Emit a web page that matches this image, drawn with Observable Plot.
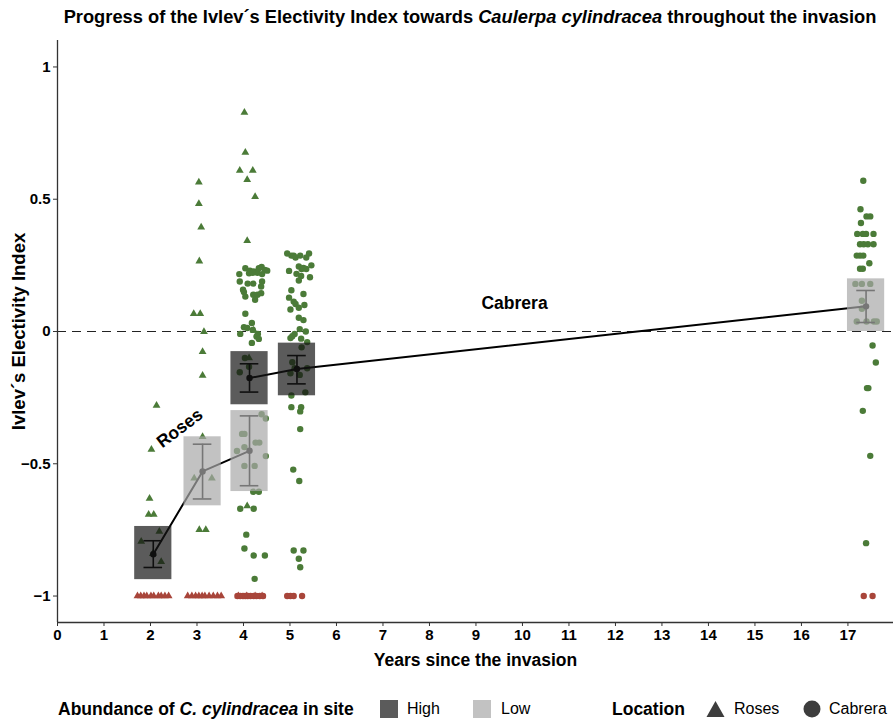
<!DOCTYPE html>
<html><head><meta charset="utf-8">
<script src="https://cdn.jsdelivr.net/npm/d3@7"></script>
<script src="https://cdn.jsdelivr.net/npm/@observablehq/plot@0.6"></script>
<style>
body{margin:0;background:#fff;font-family:"Liberation Sans",Arial,sans-serif;color:#000;}
#wrap{position:relative;width:893px;height:720px;overflow:hidden;}
#title{position:absolute;left:0;top:8px;width:940px;text-align:center;font-weight:bold;font-size:18.3px;line-height:1;white-space:nowrap;}
#chart{position:absolute;left:0;top:35px;}
.lg{position:absolute;top:700px;line-height:18px;font-size:16px;white-space:nowrap;}
.lgt{font-weight:bold;font-size:17.5px;}
</style></head>
<body>
<div id="wrap">
  <div id="title">Progress of the Ivlev´s Electivity Index towards <i>Caulerpa cylindracea</i> throughout the invasion</div>
  <div id="chart"></div>
  <div class="lg lgt" style="left:58px">Abundance of <i>C. cylindracea</i> in site</div>
  <div class="lg" style="left:380px"><svg width="18" height="18"><rect width="18" height="18" fill="#5b5b5b"/></svg></div>
  <div class="lg" style="left:407px">High</div>
  <div class="lg" style="left:473px"><svg width="18" height="18"><rect width="18" height="18" fill="#c2c2c2"/></svg></div>
  <div class="lg" style="left:501px">Low</div>
  <div class="lg lgt" style="left:612px">Location</div>
  <div class="lg" style="left:706px"><svg width="19" height="18"><path d="M9.5,1 L18.5,17 L0.5,17 Z" fill="#3d3d3d"/></svg></div>
  <div class="lg" style="left:734px">Roses</div>
  <div class="lg" style="left:803px"><svg width="18" height="18"><circle cx="9" cy="9" r="8.5" fill="#3d3d3d"/></svg></div>
  <div class="lg" style="left:829px">Cabrera</div>
</div>
<script>
// ---- data ----
const yearTicks = [0,1,2,3,4,5,6,7,8,9,10,11,12,13,14,15,16,17];
const indexTicks = [-1,-0.5,0,0.5,1];

// Roses points (triangles): [years since invasion (jittered), Ivlev index]
const rosesPts = [
  [2.13,-0.28],[2.02,-0.446],[1.98,-0.631],[1.96,-0.692],[2.07,-0.692],[2.19,-0.756],[1.80,-0.794],[2.23,-0.87],[2.05,-0.84],
  [1.72,-1],[1.79,-1],[1.86,-1],[1.92,-1],[2.01,-1],[2.07,-1],[2.17,-1],[2.23,-1],[2.31,-1],[2.39,-1],
  [3.04,0.564],[3.04,0.483],[3.09,0.394],[3.05,0.266],[2.93,0.067],[3.07,0.067],[3.15,-0.001],[3.12,-0.077],[3.12,-0.166],
  [3.12,-0.398],[2.94,-0.555],[3.32,-0.555],[3.05,-0.749],[3.19,-0.749],
  [2.80,-1],[2.89,-1],[2.97,-1],[3.04,-1],[3.11,-1],[3.17,-1],[3.26,-1],[3.35,-1],[3.44,-1],[3.52,-1],
  [4.02,0.828],[4.04,0.677],[3.92,0.609],[4.20,0.609],[4.08,0.574],[4.25,0.509],[4.08,0.343],[4.22,0.005],[4.12,-0.1],[4.08,-0.66],
  [3.89,-1],[4.07,-1],[4.25,-1],[4.40,-1]
];
// Cabrera points (circles)
const cabreraPts = [
  [4.04,0.239],[4.14,0.23],[4.22,0.227],[4.30,0.222],[4.39,0.244],[4.46,0.233],[4.51,0.23],[3.91,0.217],[4.12,0.22],[4.40,0.217],[4.20,0.222],[4.33,0.239],
  [3.92,0.189],[4.09,0.181],[4.21,0.181],[4.40,0.189],[4.38,0.17],[3.99,0.158],[4.01,0.149],[4.04,0.132],[4.21,0.139],[4.30,0.139],[4.38,0.145],[4.25,0.12],
  [4.04,0.067],[4.01,0.016],[4.08,0.013],[4.18,0.032],[4.20,0.006],[3.93,-0.009],[4.31,-0.009],[4.28,-0.019],[4.33,-0.028],[4.18,-0.043],
  [4.03,-0.1],[3.92,-0.154],[4.12,-0.133],
  [4.39,-0.313],[4.48,-0.329],[3.97,-0.387],[4.02,-0.387],[4.26,-0.42],[4.34,-0.42],[3.86,-0.452],[4.02,-0.437],[4.48,-0.471],[4.02,-0.508],[4.24,-0.508],[4.21,-0.606],[4.33,-0.606],
  [3.93,-0.67],[4.22,-0.67],[4.06,-0.768],[4.02,-0.82],[4.22,-0.847],[4.46,-0.847],[4.24,-0.935],
  [3.87,-1],[3.93,-1],[3.99,-1],[4.04,-1],[4.09,-1],[4.15,-1],[4.22,-1],[4.28,-1],[4.35,-1],[4.42,-1],
  [4.94,0.295],[5.03,0.287],[5.08,0.287],[5.12,0.28],[5.22,0.287],[5.35,0.28],[5.41,0.295],
  [4.98,0.229],[5.14,0.218],[5.19,0.246],[5.25,0.236],[5.29,0.24],[5.35,0.236],[5.46,0.25],[5.24,0.21],[5.43,0.205],[5.19,0.193],
  [5.03,0.156],[5.29,0.142],[4.98,0.128],[5.08,0.113],[5.12,0.104],[5.31,0.1],[5.19,0.09],[5.01,0.083],
  [5.19,0.052],[5.29,0.043],[5.21,0.009],[5.34,0.0],[5.10,-0.009],[5.05,-0.018],[5.01,-0.025],[5.24,-0.027],[5.37,-0.04],[5.25,-0.06],
  [5.05,-0.116],[5.10,-0.139],[5.37,-0.139],[5.01,-0.158],[5.21,-0.164],[5.03,-0.242],[5.33,-0.23],
  [5.03,-0.286],[5.24,-0.286],[5.22,-0.302],[5.22,-0.369],[5.07,-0.522],[5.20,-0.565],[5.08,-0.828],[5.29,-0.828],[5.19,-0.859],[5.22,-0.891],
  [4.94,-1],[5.01,-1],[5.08,-1],[5.26,-1],
  [17.33,0.57],[17.27,0.462],[17.40,0.435],[17.48,0.435],[17.28,0.41],[17.20,0.369],[17.32,0.369],[17.39,0.369],[17.55,0.369],
  [17.26,0.33],[17.34,0.33],[17.43,0.33],[17.55,0.33],[17.19,0.287],[17.26,0.287],[17.33,0.287],[17.46,0.258],[17.26,0.237],[17.32,0.237],
  [17.16,0.18],[17.30,0.18],[17.48,0.18],[17.30,0.116],[17.30,0.086],[17.19,0.038],[17.40,0.038],[17.56,0.038],[17.62,0.038],
  [17.53,-0.053],[17.60,-0.117],[17.41,-0.214],[17.44,-0.214],[17.32,-0.3],[17.48,-0.47],[17.39,-0.8],
  [17.34,-1],[17.53,-1]
];

// Summary per site and sampling time
const sumYear     = [2.06, 3.12, 4.13, 4.13, 5.15, 17.39];
const sumLocation = ["Roses","Roses","Roses","Cabrera","Cabrera","Cabrera"];
const sumAbund    = ["High","Low","Low","High","High","Low"];
const sumMean     = [-0.842,-0.529,-0.451,-0.176,-0.142,0.095];
const sumErrLow   = [-0.892,-0.633,-0.583,-0.229,-0.198,0.034];
const sumErrHigh  = [-0.791,-0.426,-0.319,-0.122,-0.091,0.155];
const sumBoxLow   = [-0.938,-0.659,-0.605,-0.277,-0.243,0.0];
const sumBoxHigh  = [-0.737,-0.398,-0.299,-0.076,-0.044,0.199];

const siteLabels = ["Roses","Cabrera"];

// ---- build tables ----
const summary = sumYear.map((y,i)=>({year:y, loc:sumLocation[i], abund:sumAbund[i], mean:sumMean[i],
  lo:sumErrLow[i], hi:sumErrHigh[i], bl:sumBoxLow[i], bh:sumBoxHigh[i]}));
const labels = [
  {t: siteLabels[0], x: 2.63, y: -0.366, a: -37},
  {t: siteLabels[1], x: 9.83, y: 0.106, a: 0}
];
const isZero = d => d[1] <= -1;
const GREEN = "#4b7b38", RED = "#a8453a";
const BOXW = 0.4, CAP = 0.2;

const chart = Plot.plot({
  width: 893, height: 645,
  marginTop: 5, marginBottom: 58, marginLeft: 57, marginRight: 0,
  style: {fontFamily: "'Liberation Sans', Arial, sans-serif", fontWeight: "bold", fontSize: "15px", color: "#000", background: "#fff"},
  x: {domain: [0, 17.98]},
  y: {domain: [-1.1, 1.1]},
  color: {domain: ["High","Low"], range: ["#151515","#a8a8a8"]},
  marks: [
    Plot.ruleY([0], {stroke: "#222", strokeWidth: 1.2, strokeDasharray: "9,6"}),
    Plot.dot(rosesPts.filter(d=>!isZero(d)), {x: d=>d[0], y: d=>d[1], symbol: "triangle", r: 2.9, fill: GREEN}),
    Plot.dot(rosesPts.filter(isZero), {x: d=>d[0], y: d=>d[1], symbol: "triangle", r: 2.9, fill: RED}),
    Plot.dot(cabreraPts.filter(d=>!isZero(d)), {x: d=>d[0], y: d=>d[1], symbol: "circle", r: 3.2, fill: GREEN}),
    Plot.dot(cabreraPts.filter(isZero), {x: d=>d[0], y: d=>d[1], symbol: "circle", r: 3.2, fill: RED}),
    Plot.line(summary, {x: "year", y: "mean", z: "loc", stroke: "#000", strokeWidth: 2}),
    Plot.ruleX(summary, {x: "year", y1: "lo", y2: "hi", stroke: "#000", strokeWidth: 1.6}),
    Plot.ruleY(summary, {y: "lo", x1: d=>d.year-CAP, x2: d=>d.year+CAP, stroke: "#000", strokeWidth: 1.6}),
    Plot.ruleY(summary, {y: "hi", x1: d=>d.year-CAP, x2: d=>d.year+CAP, stroke: "#000", strokeWidth: 1.6}),
    Plot.dot(summary, {x: "year", y: "mean", r: 3.2, fill: "#000"}),
    Plot.rect(summary, {x1: d=>d.year-BOXW, x2: d=>d.year+BOXW, y1: "bl", y2: "bh", fill: "abund", fillOpacity: 0.7}),
    Plot.text(labels, {x: "x", y: "y", text: "t", rotate: "a", fontSize: 17.5, fontWeight: "bold", fill: "#000"}),
    Plot.axisX({ticks: yearTicks, tickFormat: d=>String(d), tickSize: 4, tickPadding: 3, label: null, stroke: "#333", fontSize: 15}),
    Plot.axisY({ticks: indexTicks, tickFormat: d=> d===0 ? "0" : String(d).replace("-","\u2212"), tickSize: 4, tickPadding: 3, label: null, stroke: "#333", fontSize: 15}),
    Plot.ruleX([0], {stroke: "#333", strokeWidth: 1.3}),
    Plot.ruleY([-1.1], {stroke: "#333", strokeWidth: 1.3}),
    Plot.text(["Years since the invasion"], {frameAnchor: "bottom", dy: 43, fontSize: 17.5, fontWeight: "bold", textAnchor: "middle"}),
    Plot.text(["Ivlev´s Electivity Index"], {frameAnchor: "left", dx: -38, rotate: -90, fontSize: 18.5, fontWeight: "bold", textAnchor: "middle"})
  ]
});
document.getElementById("chart").appendChild(chart);
</script>
</body></html>
